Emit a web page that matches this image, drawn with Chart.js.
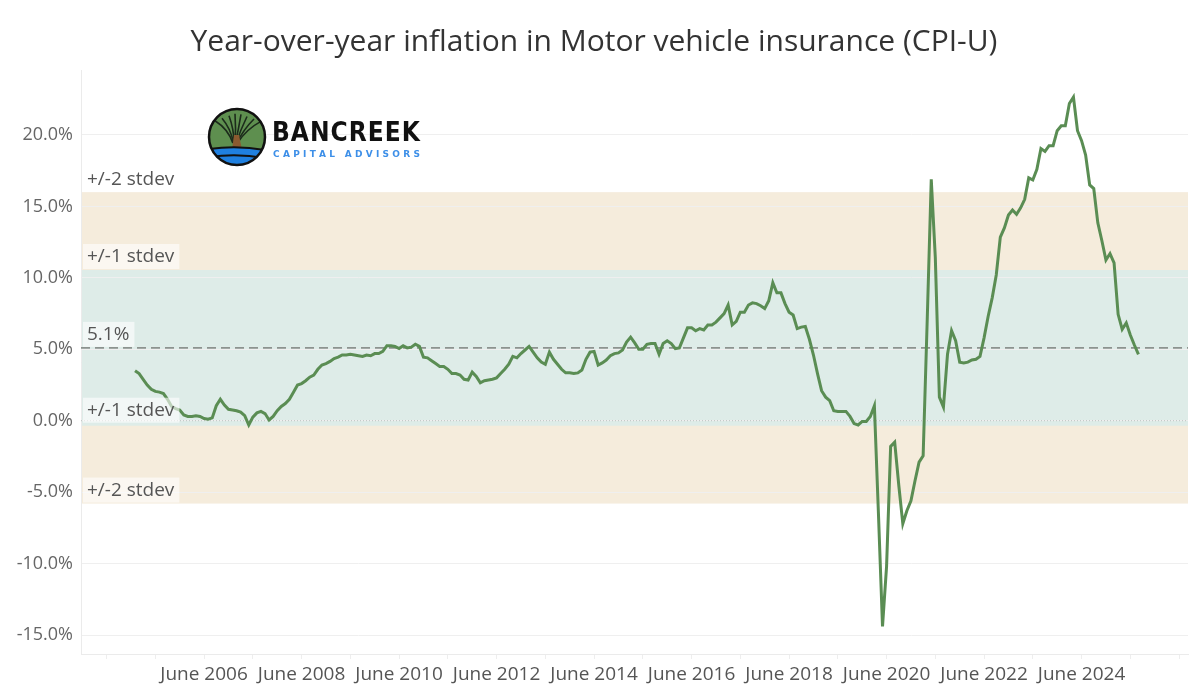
<!DOCTYPE html>
<html>
<head>
<meta charset="utf-8">
<script src="https://cdn.jsdelivr.net/npm/chart.js@4.4.1/dist/chart.umd.min.js"></script>
<style>
  body { margin: 0; background: #fff; }
  #wrap { width: 1200px; height: 700px; }
</style>
</head>
<body>
<div id="wrap"><canvas id="myChart"></canvas></div>
<script>
// monthly YoY % change, first value = January 2005
const startYear = 2005;
const yoyValues = [
  3.5, 3.3, 2.9, 2.5, 2.2, 2.05, 2.0, 1.9, 1.5, 1.0, 0.85, 0.75,
  0.4, 0.3, 0.3, 0.35, 0.3, 0.15, 0.1, 0.2, 1.05, 1.5, 1.1, 0.8,
  0.75, 0.7, 0.6, 0.35, -0.3, 0.25, 0.55, 0.65, 0.5, 0.05, 0.3, 0.7,
  1.0, 1.2, 1.5, 2.0, 2.5, 2.6, 2.8, 3.05, 3.2, 3.6, 3.9, 4.0,
  4.15, 4.35, 4.45, 4.6, 4.6, 4.65, 4.6, 4.55, 4.5, 4.6, 4.55, 4.7,
  4.7, 4.85, 5.25, 5.25, 5.2, 5.05, 5.25, 5.1, 5.15, 5.35, 5.2, 4.45,
  4.4, 4.2, 4.0, 3.8, 3.8, 3.6, 3.3, 3.3, 3.2, 2.9, 2.85, 3.4,
  3.1, 2.65, 2.8, 2.85, 2.9, 3.0, 3.3, 3.6, 3.95, 4.5, 4.4, 4.7,
  4.95, 5.2, 4.8, 4.4, 4.1, 3.95, 4.8, 4.3, 3.95, 3.6, 3.35, 3.35,
  3.3, 3.35, 3.55, 4.3, 4.8, 4.85, 3.9, 4.05, 4.25, 4.55, 4.7, 4.75,
  4.95, 5.5, 5.85, 5.45, 5.0, 5.0, 5.35, 5.4, 5.4, 4.65, 5.4, 5.6,
  5.4, 5.05, 5.1, 5.8, 6.5, 6.5, 6.3, 6.45, 6.35, 6.7, 6.7, 6.9,
  7.2, 7.5, 8.1, 6.7, 6.95, 7.6, 7.6, 8.1, 8.25, 8.2, 8.05, 7.85,
  8.4, 9.65, 8.95, 8.95, 8.2, 7.6, 7.4, 6.45, 6.55, 6.6, 5.7, 4.6,
  3.3, 2.1, 1.65, 1.4, 0.7, 0.65, 0.65, 0.65, 0.3, -0.2, -0.3, -0.05,
  -0.05, 0.3, 1.05, -6.5, -14.4, -10.2, -1.8, -1.5, -4.5, -7.2, -6.3, -5.6,
  -4.2, -2.9, -2.45, 7.0, 16.9, 11.4, 1.65, 0.95, 4.65, 6.3, 5.6, 4.1,
  4.05, 4.1, 4.25, 4.3, 4.5, 5.8, 7.3, 8.6, 10.2, 12.85, 13.5, 14.4,
  14.75, 14.45, 14.9, 15.5, 17.0, 16.85, 17.6, 19.05, 18.85, 19.25, 19.25, 20.3,
  20.65, 20.65, 22.2, 22.65, 20.3, 19.6, 18.6, 16.5, 16.25, 13.85, 12.6, 11.25,
  11.7, 11.05, 7.45, 6.4, 6.85, 6.0, 5.3, 4.65
];
const tickYears = [2004, 2005, 2006, 2007, 2008, 2009, 2010, 2011, 2012, 2013, 2014, 2015,
  2016, 2017, 2018, 2019, 2020, 2021, 2022, 2023, 2024, 2025, 2026];
const labelYears = [2006, 2008, 2010, 2012, 2014, 2016, 2018, 2020, 2022, 2024];
const yTicks = [-15, -10, -5, 0, 5, 10, 15, 20];
const meanValue = 5.1;
const stdevValue = 5.45;

const juneIndex = year => (year - startYear) * 12 + 5;
const points = yoyValues.map((v, i) => ({ x: i, y: v }));

const textFont = '"Open Sans", "Noto Sans", sans-serif';

function spacedText(ctx, text, x0, x1, y) {
  const chars = [...text];
  const widths = chars.map(c => ctx.measureText(c).width);
  const total = widths.reduce((a, b) => a + b, 0);
  const gap = (x1 - x0 - total) / (chars.length - 1);
  let x = x0;
  chars.forEach((c, i) => { ctx.fillText(c, x, y); x += widths[i] + gap; });
}

function drawLogo(ctx) {
  const cx = 237, cy = 137, r = 28;
  ctx.save();
  ctx.beginPath();
  ctx.arc(cx, cy, r, 0, Math.PI * 2);
  ctx.clip();
  ctx.fillStyle = '#5e8f4f';
  ctx.fillRect(cx - r, cy - r, 2 * r, 2 * r);
  // branches
  ctx.strokeStyle = '#1c2b1b';
  ctx.lineWidth = 1.6;
  [-22, -15, -8, -2, 4, 10, 17, 24].forEach(dx => {
    ctx.beginPath();
    ctx.moveTo(cx - 2 + dx * 0.1, cy + 6);
    ctx.quadraticCurveTo(cx + dx * 0.4, cy - 8, cx + dx, cy - 24 + Math.abs(dx) * 0.35);
    ctx.stroke();
  });
  // trunk
  ctx.fillStyle = '#8b5a30';
  ctx.beginPath();
  ctx.moveTo(cx - 5, cy + 13);
  ctx.lineTo(cx - 3, cy - 2);
  ctx.lineTo(cx + 2, cy - 2);
  ctx.lineTo(cx + 5, cy + 13);
  ctx.closePath();
  ctx.fill();
  // water
  ctx.fillStyle = '#1f80e0';
  ctx.beginPath();
  ctx.moveTo(cx - r, cy + 12);
  ctx.quadraticCurveTo(cx, cy + 8, cx + r, cy + 13);
  ctx.lineTo(cx + r, cy + r);
  ctx.lineTo(cx - r, cy + r);
  ctx.closePath();
  ctx.fill();
  ctx.strokeStyle = '#111';
  ctx.lineWidth = 2;
  ctx.beginPath();
  ctx.moveTo(cx - r, cy + 12);
  ctx.quadraticCurveTo(cx, cy + 8, cx + r, cy + 13);
  ctx.stroke();
  ctx.beginPath();
  ctx.moveTo(cx - r, cy + 20);
  ctx.quadraticCurveTo(cx, cy + 16, cx + r, cy + 21);
  ctx.stroke();
  ctx.restore();
  ctx.beginPath();
  ctx.arc(cx, cy, r, 0, Math.PI * 2);
  ctx.lineWidth = 2.5;
  ctx.strokeStyle = '#111';
  ctx.stroke();

  ctx.fillStyle = '#111';
  ctx.font = 'bold 26px "DejaVu Sans Condensed", "DejaVu Sans", sans-serif';
  ctx.textBaseline = 'alphabetic';
  ctx.textAlign = 'left';
  spacedText(ctx, 'BANCREEK', 272, 420, 141);
  ctx.fillStyle = '#3d8fe8';
  ctx.font = 'bold 9px "DejaVu Sans", sans-serif';
  spacedText(ctx, 'CAPITAL ADVISORS', 273, 420, 157);
}

function bandLabel(ctx, text, x, lineY) {
  ctx.font = '19px ' + textFont;
  const w = ctx.measureText(text).width;
  const cy = lineY - 13;
  ctx.fillStyle = 'rgba(255,255,255,0.6)';
  ctx.fillRect(x - 4, cy - 13, w + 9, 25);
  ctx.fillStyle = '#555';
  ctx.textAlign = 'left';
  ctx.textBaseline = 'middle';
  ctx.fillText(text, x, cy);
}

const bandsPlugin = {
  id: 'bands',
  beforeDraw(chart) {
    const { ctx, chartArea: a, scales: { y } } = chart;
    ctx.save();
    ctx.fillStyle = '#f5ecdc';
    const t2 = y.getPixelForValue(meanValue + 2 * stdevValue);
    const b2 = y.getPixelForValue(meanValue - 2 * stdevValue);
    ctx.fillRect(a.left, t2, a.right - a.left, b2 - t2);
    ctx.fillStyle = '#deece8';
    const t1 = y.getPixelForValue(meanValue + stdevValue);
    const b1 = y.getPixelForValue(meanValue - stdevValue);
    ctx.fillRect(a.left, t1, a.right - a.left, b1 - t1);
    ctx.restore();
  },
  beforeDatasetsDraw(chart) {
    const { ctx, chartArea: a, scales: { y } } = chart;
    ctx.save();
    // zero line (dotted)
    const y0 = y.getPixelForValue(0);
    ctx.strokeStyle = '#b9c2bf';
    ctx.lineWidth = 1;
    ctx.setLineDash([1, 2]);
    ctx.beginPath();
    ctx.moveTo(a.left, y0);
    ctx.lineTo(a.right, y0);
    ctx.stroke();
    // mean line (dashed)
    const ym = y.getPixelForValue(meanValue);
    ctx.strokeStyle = '#8d928f';
    ctx.lineWidth = 1.6;
    ctx.setLineDash([9, 5]);
    ctx.beginPath();
    ctx.moveTo(a.left, ym);
    ctx.lineTo(a.right, ym);
    ctx.stroke();
    ctx.restore();
  },
  afterDatasetsDraw(chart) {
    const { ctx, chartArea: a, scales: { y } } = chart;
    ctx.save();
    const x = a.left + 6;
    bandLabel(ctx, '+/-2 stdev', x, y.getPixelForValue(meanValue + 2 * stdevValue));
    bandLabel(ctx, '+/-1 stdev', x, y.getPixelForValue(meanValue + stdevValue));
    bandLabel(ctx, meanValue.toFixed(1) + '%', x, y.getPixelForValue(meanValue));
    bandLabel(ctx, '+/-1 stdev', x, y.getPixelForValue(meanValue - stdevValue) - 2);
    bandLabel(ctx, '+/-2 stdev', x, y.getPixelForValue(meanValue - 2 * stdevValue));
    drawLogo(ctx);
    ctx.restore();
  }
};

const config = {
  type: 'line',
  data: {
    datasets: [{
      label: 'Motor vehicle insurance',
      data: points,
      borderColor: '#5a8d53',
      borderWidth: 3,
      pointRadius: 0,
      tension: 0,
      fill: false
    }]
  },
  options: {
    responsive: true,
    maintainAspectRatio: false,
    animation: false,
    layout: { padding: { left: 0, right: 12, top: 0, bottom: 0 } },
    plugins: {
      legend: { display: false },
      tooltip: { enabled: false },
      title: {
        display: true,
        text: 'Year-over-year inflation in Motor vehicle insurance (CPI-U)',
        color: '#333',
        font: { family: textFont, size: 30, weight: 'normal' },
        padding: { top: 24, bottom: 10 }
      }
    },
    scales: {
      x: {
        type: 'linear',
        min: -13.3,
        max: 259.2,
        afterBuildTicks: scale => {
          scale.ticks = tickYears.map(yr => ({ value: juneIndex(yr) }));
        },
        afterFit: scale => { scale.height = 46; },
        ticks: {
          autoSkip: false,
          maxRotation: 0,
          color: '#555',
          font: { family: textFont, size: 19 },
          padding: 4,
          callback: value => {
            const yr = startYear + (value - 5) / 12;
            return labelYears.includes(yr) ? 'June ' + yr : '';
          }
        },
        grid: { drawOnChartArea: false, tickLength: 5, color: '#eeeeee' },
        border: { color: '#ebebeb' }
      },
      y: {
        min: -16.33,
        max: 24.55,
        afterBuildTicks: scale => {
          scale.ticks = yTicks.map(v => ({ value: v }));
        },
        afterFit: scale => { scale.width = 81; },
        ticks: {
          color: '#666',
          font: { family: textFont, size: 18 },
          padding: 8,
          callback: v => v.toFixed(1) + '%'
        },
        grid: { color: '#efefef', drawTicks: false },
        border: { color: '#ebebeb' }
      }
    }
  },
  plugins: [bandsPlugin]
};

const myChart = new Chart(document.getElementById('myChart'), config);
</script>
</body>
</html>
